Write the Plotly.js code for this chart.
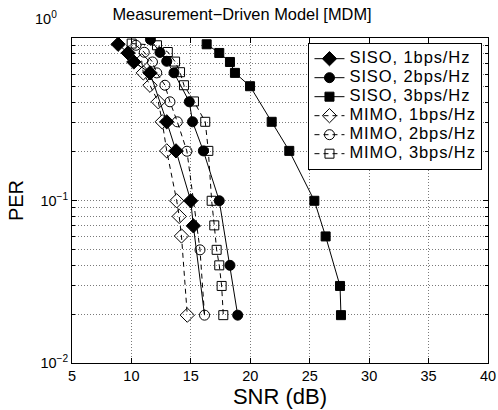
<!DOCTYPE html>
<html>
<head>
<meta charset="utf-8">
<script src="https://cdn.plot.ly/plotly-3.0.1.min.js"></script>
<style>html,body{margin:0;padding:0;background:#fff;}#chart{width:498px;height:410px;}</style>
</head>
<body>
<div id="chart"></div>
<script>
// ---- data ----
const siso1_snr = [8.88, 9.72, 10.2, 11.56, 12.97, 13.75, 14.99, 15.21, 16.15];
const siso1_per = [0.915, 0.809, 0.712, 0.610, 0.305, 0.202, 0.0996, 0.0698, 0.0197];
const siso2_snr = [11.6, 12.4, 12.97, 13.58, 14.87, 15.14, 16.05, 17.39, 18.29, 18.94];
const siso2_per = [0.978, 0.815, 0.719, 0.611, 0.405, 0.305, 0.202, 0.0996, 0.0399, 0.0197];
const siso3_snr = [16.33, 17.39, 18.29, 18.71, 19.98, 21.8, 23.28, 25.39, 26.34, 27.55, 27.63];
const siso3_per = [0.915, 0.809, 0.712, 0.610, 0.505, 0.305, 0.202, 0.0996, 0.0601, 0.0298, 0.0197];
const mimo1_snr = [10.86, 11.0, 11.56, 12.26, 12.59, 12.97, 13.81, 14.02, 14.21, 14.7];
const mimo1_per = [0.725, 0.610, 0.512, 0.405, 0.305, 0.202, 0.0996, 0.0798, 0.0605, 0.0197];
const mimo2_snr = [10.38, 11.08, 11.77, 12.13, 12.82, 13.24, 13.86, 14.67, 15.77, 16.15];
const mimo2_per = [0.902, 0.817, 0.712, 0.610, 0.512, 0.405, 0.305, 0.201, 0.0497, 0.0197];
const mimo3_snr = [10.02, 12.15, 13.06, 13.67, 14.09, 14.42, 15.26, 16.21, 16.47, 16.75, 16.97, 17.17, 17.39, 17.59, 17.73];
const mimo3_per = [0.924, 0.902, 0.820, 0.716, 0.616, 0.512, 0.407, 0.305, 0.202, 0.0996, 0.0703, 0.0497, 0.0399, 0.0298, 0.0197];

const seriesNames = ['SISO, 1bps/Hz', 'SISO, 2bps/Hz', 'SISO, 3bps/Hz', 'MIMO, 1bps/Hz', 'MIMO, 2bps/Hz', 'MIMO, 3bps/Hz'];
const xTickVals = [5, 10, 15, 20, 25, 30, 35, 40];
const yTickVals = [0.01, 0.1, 1];
const yTickText = ['10<sup>\u22122</sup>', '10<sup>\u22121</sup>', '10<sup>0\u2007\u2007</sup><br>\u00a0<br>\u00a0'];
const titleText = 'Measurement\u2212Driven Model [MDM]';
const xTitle = 'SNR (dB)';
const yTitle = 'PER';

// ---- styling ----
const FONT = 'Liberation Sans, Arial, Helvetica, sans-serif';
const minorVals = [];
for (let d = -2; d < 0; d++) for (let k = 2; k <= 9; k++) minorVals.push(k * Math.pow(10, d));
const DASH = '5px,4px';
const legName = n => '<span style="font-size:16.5px;letter-spacing:0.9px">' + n + '</span>';

function mk(x, y, name, symbol, size, dash) {
  return {
    x: x, y: y, name: legName(name), type: 'scatter', mode: 'lines+markers',
    line: {color: '#000', width: 1, dash: dash},
    marker: {symbol: symbol, size: size, color: '#000', opacity: 1, line: {color: '#000', width: 1}}
  };
}
const traces = [
  // final segment of SISO 1bps (line only, the reference shows no marker there)
  {x: siso1_snr.slice(-2), y: siso1_per.slice(-2), type: 'scatter', mode: 'lines',
   line: {color: '#000', width: 1}, showlegend: false, hoverinfo: 'skip'},
  mk(siso1_snr.slice(0, -1), siso1_per.slice(0, -1), seriesNames[0], 'diamond', 11, 'solid'),
  mk(siso2_snr, siso2_per, seriesNames[1], 'circle', 10, 'solid'),
  mk(siso3_snr, siso3_per, seriesNames[2], 'square', 9, 'solid'),
  mk(mimo1_snr, mimo1_per, seriesNames[3], 'diamond-open', 11, DASH),
  mk(mimo2_snr, mimo2_per, seriesNames[4], 'circle-open', 10, DASH),
  mk(mimo3_snr, mimo3_per, seriesNames[5], 'square-open', 9, DASH)
];

const gridCol = '#7a7a7a';
const GD = '1px,2px';
const layout = {
  width: 498, height: 410,
  margin: {l: 72, r: 10, t: 38, b: 47, pad: 0},
  paper_bgcolor: '#fff', plot_bgcolor: '#fff',
  font: {family: FONT, color: '#000', size: 14},
  title: {text: titleText, font: {family: FONT, size: 16.4, color: '#000'}, x: 0.486, xanchor: 'center', y: 0.966, yanchor: 'middle'},
  showlegend: true,
  legend: {
    x: 0.986, xanchor: 'right', y: 0.985, yanchor: 'top',
    bgcolor: '#fff', bordercolor: '#000', borderwidth: 1.3,
    font: {family: FONT, size: 11.5, color: '#000'},
    itemwidth: 30, tracegroupgap: 0
  },
  xaxis: {
    type: 'linear', range: [5, 40], tickmode: 'array', tickvals: xTickVals,
    ticks: 'inside', ticklen: 5, tickcolor: '#000', mirror: 'ticks',
    showline: true, linecolor: '#000', linewidth: 1,
    showgrid: true, gridcolor: gridCol, griddash: GD, gridwidth: 1,
    zeroline: false, tickfont: {family: FONT, size: 14.5, color: '#000'},
    title: {text: xTitle, font: {family: FONT, size: 22, color: '#000'}, standoff: 0}
  },
  yaxis: {
    type: 'log', range: [-2, 0], tickmode: 'array', tickvals: yTickVals, ticktext: yTickText,
    ticks: 'inside', ticklen: 5, tickcolor: '#000', mirror: 'ticks',
    showline: true, linecolor: '#000', linewidth: 1,
    showgrid: true, gridcolor: gridCol, griddash: GD, gridwidth: 1,
    zeroline: false, tickfont: {family: FONT, size: 14.5, color: '#000'},
    minor: {tickmode: 'array', tickvals: minorVals, ticks: 'inside', ticklen: 3, tickcolor: '#000',
            showgrid: true, gridcolor: gridCol, griddash: GD, gridwidth: 1},
    title: {text: yTitle, font: {family: FONT, size: 20, color: '#000'}, standoff: 6}
  }
};

Plotly.newPlot('chart', traces, layout, {staticPlot: true, displayModeBar: false});
</script>
</body>
</html>
